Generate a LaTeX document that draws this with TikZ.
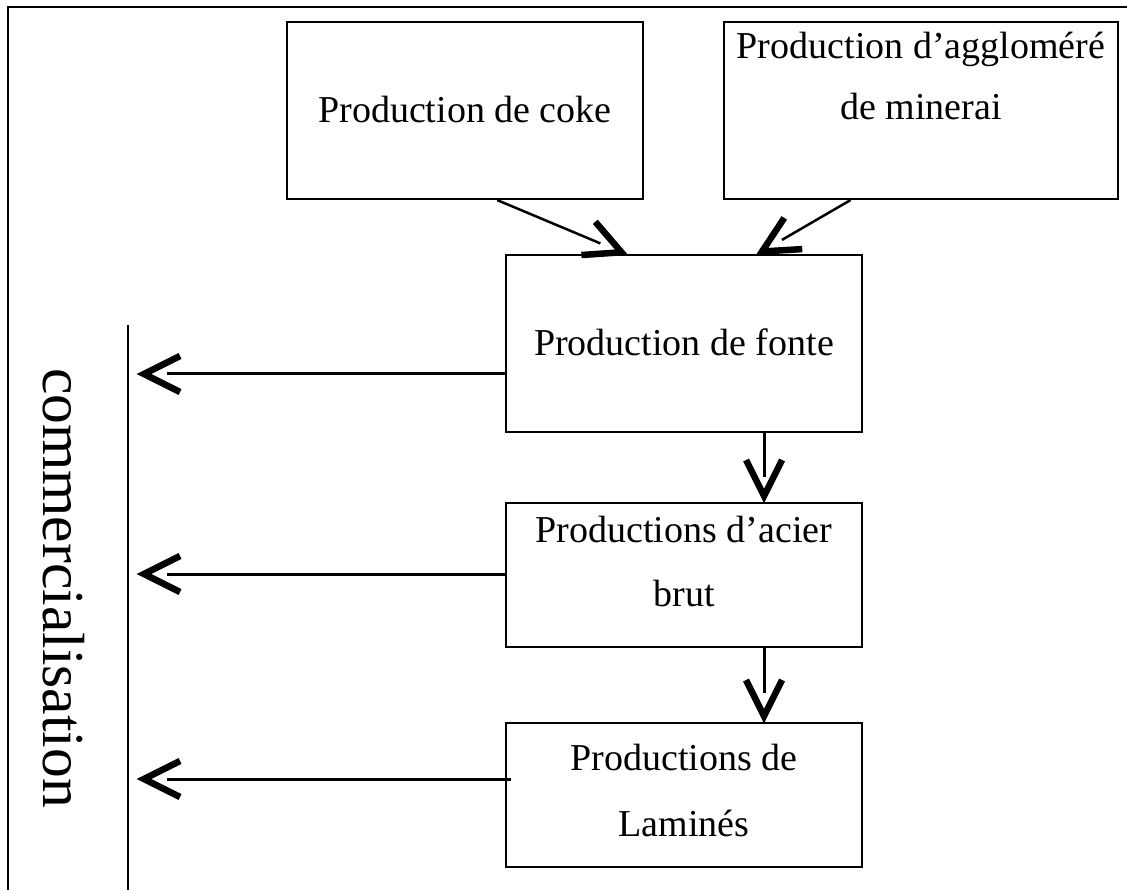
\documentclass[tikz,border=0pt]{standalone}
\usepackage{fontspec}
\setmainfont{Liberation Serif}
\usetikzlibrary{calc}
\tikzset{
  box/.style={draw, line width=2.2pt, inner sep=0pt, minimum width=356pt},
  txt/.style={font=\fontsize{38}{64}\selectfont, align=center, anchor=base, inner sep=0pt},
  shaft/.style={line width=3pt, shorten >=30pt},
  vhead/.style={line width=6.5pt, line cap=butt, line join=miter},
  rule/.style={line width=2.2pt},
}
% open, heavy "V" arrowhead whose point sits on #1, turned by #2 degrees
\newcommand\openhead[2]{\draw[vhead, shift={(#1)}, rotate=#2] (-43,18) -- (-7,0) -- (-43,-18);}

\begin{document}
\begin{tikzpicture}[x=1pt,y=-1pt]
\useasboundingbox (0,0) rectangle (1127,890);

% frame and the market bar
\draw[line width=2.5pt] (8,890) -- (8,7) -- (1127,7);
\draw[rule] (128,325) -- (128,890);
\node[rotate=-90, anchor=base west, inner sep=0pt, font=\fontsize{59.5}{62}\selectfont] (comm) at (43,368) {commercialisation};

% production stages
\node[box, minimum height=177pt] (coke) at (465,110.5) {};
\node[box, minimum width=394pt, minimum height=177pt] (agglo) at (921,110.5) {};
\node[box, minimum height=177pt] (fonte) at (684,343.5) {};
\node[box, minimum height=144pt] (acier) at (684,575) {};
\node[box, minimum height=144pt] (lam) at (684,795) {};

% labels (a "base" anchor sits on the last line's baseline)
\node[txt] at ($(coke.north)+(0,102)$) {Production de coke};
\node[txt, font=\fontsize{38}{61}\selectfont] at ($(agglo.north)+(0,99)$) {Production d’aggloméré\\de minerai};
\node[txt] at ($(fonte.north)+(0,102)$) {Production de fonte};
\node[txt] at ($(acier.north)+(0,105)$) {Productions d’acier\\brut};
\node[txt, font=\fontsize{38}{66}\selectfont] at ($(lam.north)+(0,115)$) {Productions de\\Laminés};

% arrow points
\coordinate (tF) at (137,374);
\coordinate (tA) at (137,574);
\coordinate (tL) at (137,779);
\coordinate (dA) at (764,503);
\coordinate (dL) at (764,723);
\coordinate (cT) at (628,255);
\coordinate (aT) at (756,255);

% flows
\draw[shaft, line width=2.5pt] ($(coke.south west)!0.59!(coke.south east)$) -- (cT);
\draw[shaft, line width=2.5pt] ($(agglo.south west)!0.322!(agglo.south east)$) -- (aT);
\draw[shaft, shorten >=26pt] (fonte.south -| dA) -- (dA);
\draw[shaft] (acier.south -| dL) -- (dL);
\draw[shaft] (fonte.west |- tF) -- (tF);
\draw[shaft] (acier.west |- tA) -- (tA);
\draw[shaft] ($(lam.west |- tL)+(6,0)$) -- (tL);

\openhead{cT}{-22.7}
\openhead{aT}{210}
\openhead{dA}{-90}
\openhead{dL}{-90}
\openhead{tF}{180}
\openhead{tA}{180}
\openhead{tL}{180}
\end{tikzpicture}
\end{document}
